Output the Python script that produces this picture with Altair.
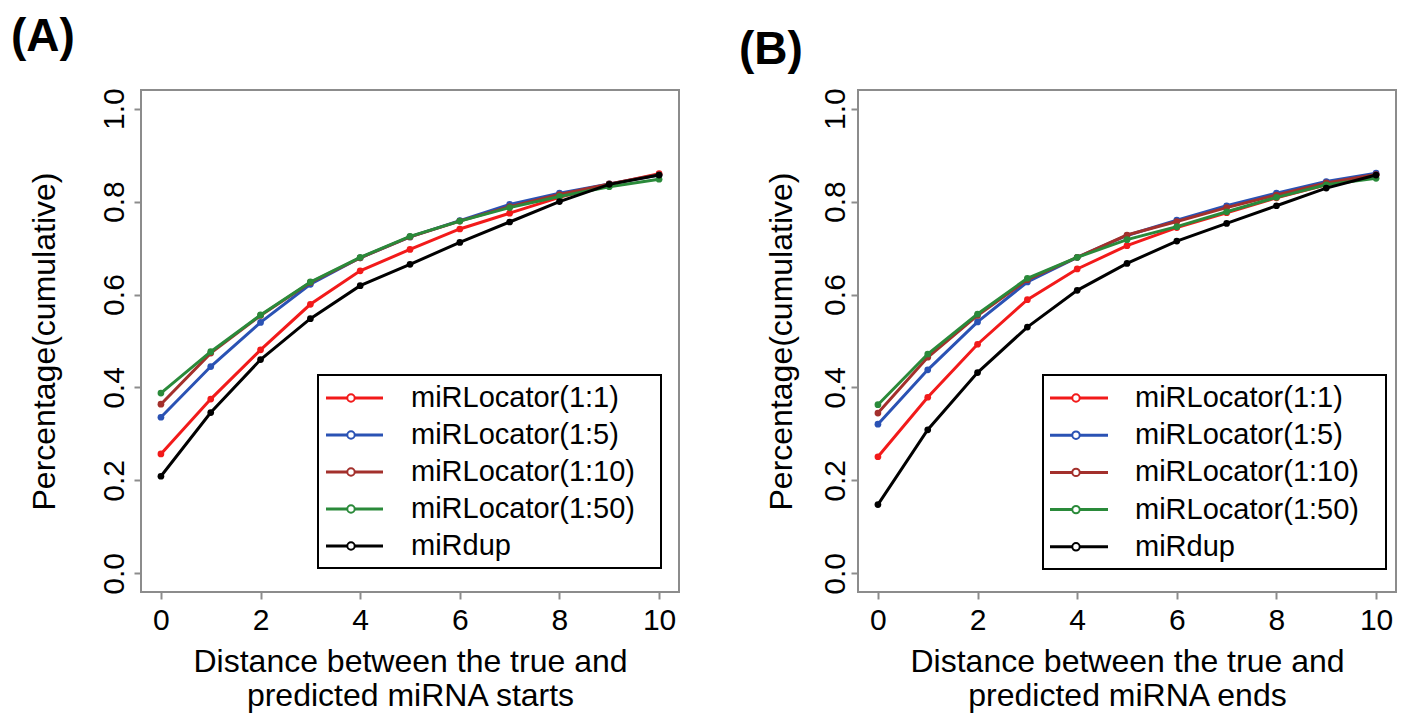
import altair as alt
import pandas as pd

FONT = "Liberation Sans"

distance = list(range(11))
series_names = ["miRLocator(1:1)", "miRLocator(1:5)", "miRLocator(1:10)",
                "miRLocator(1:50)", "miRdup"]
series_colors = ["#f21a1a", "#2a52b4", "#a3302c", "#2a8a3a", "#000000"]

# Panel A: starts
starts_1_1 = [0.257, 0.375, 0.481, 0.579, 0.651, 0.697, 0.741, 0.775, 0.809, 0.837, 0.860]
starts_1_5 = [0.336, 0.445, 0.540, 0.622, 0.679, 0.724, 0.759, 0.794, 0.818, 0.838, 0.857]
starts_1_10 = [0.364, 0.474, 0.555, 0.626, 0.679, 0.724, 0.758, 0.789, 0.815, 0.838, 0.858]
starts_1_50 = [0.388, 0.477, 0.556, 0.627, 0.680, 0.725, 0.758, 0.787, 0.811, 0.832, 0.848]
starts_mirdup = [0.209, 0.346, 0.460, 0.548, 0.619, 0.665, 0.712, 0.756, 0.800, 0.837, 0.857]

# Panel B: ends
ends_1_1 = [0.251, 0.379, 0.493, 0.589, 0.655, 0.705, 0.744, 0.776, 0.808, 0.836, 0.858]
ends_1_5 = [0.321, 0.438, 0.541, 0.627, 0.680, 0.727, 0.760, 0.791, 0.818, 0.843, 0.861]
ends_1_10 = [0.345, 0.465, 0.555, 0.632, 0.680, 0.728, 0.757, 0.787, 0.814, 0.840, 0.858]
ends_1_50 = [0.363, 0.472, 0.558, 0.635, 0.680, 0.718, 0.746, 0.778, 0.809, 0.836, 0.850]
ends_mirdup = [0.148, 0.309, 0.432, 0.530, 0.609, 0.667, 0.715, 0.753, 0.791, 0.829, 0.857]

x_ticks = [0, 2, 4, 6, 8, 10]
y_ticks = [0.0, 0.2, 0.4, 0.6, 0.8, 1.0]
y_title = "Percentage(cumulative)"
x_title_a = ["Distance between the true and", "predicted miRNA starts"]
x_title_b = ["Distance between the true and", "predicted miRNA ends"]

W, H = 538, 502
color_scale = alt.Scale(domain=series_names, range=series_colors)


def long_df(series_lists):
    rows = []
    for name, vals in zip(series_names, series_lists):
        for d, v in zip(distance, vals):
            rows.append({"distance": d, "value": v, "series": name})
    return pd.DataFrame(rows)


def panel(label, series_lists, xtitle, lab_pos, leg, ylab_pad, ytitle_pad):
    df = long_df(series_lists)
    x_enc = alt.X("distance:Q",
                  scale=alt.Scale(domain=[-0.4, 10.4], nice=False, zero=False),
                  axis=alt.Axis(values=x_ticks, title=xtitle, labelFlush=False,
                                labelOverlap=False, labelPadding=6, titlePadding=11,
                                titleLineHeight=34))
    y_enc = alt.Y("value:Q",
                  scale=alt.Scale(domain=[-0.04, 1.04], nice=False, zero=False),
                  axis=alt.Axis(values=y_ticks, format=".1f", title=y_title,
                                labelAngle=-90, labelAlign="center",
                                labelBaseline="bottom", labelFlush=False,
                                labelOverlap=False, labelPadding=ylab_pad,
                                titlePadding=ytitle_pad))
    c_enc = alt.Color("series:N", scale=color_scale, legend=None)

    layers = []
    for name in series_names:
        base = alt.Chart(df).transform_filter(alt.datum.series == name)
        layers.append(base.mark_line(strokeWidth=3).encode(x=x_enc, y=y_enc, color=c_enc))
        layers.append(base.mark_point(filled=True, size=45, opacity=1).encode(
            x=x_enc, y=y_enc, color=c_enc))

    # legend (drawn inside the plot like the R legend)
    box = alt.Chart(pd.DataFrame({"k": [0]})).mark_rect(
        fill="white", stroke="black", strokeWidth=2).encode(
        x=alt.value(leg["x0"]), x2=alt.value(leg["x1"]),
        y=alt.value(leg["y0"]), y2=alt.value(leg["y1"]))
    leg_df = pd.DataFrame({"series": series_names, "idx": list(range(len(series_names)))})
    lbase = alt.Chart(leg_df).transform_calculate(
        ly=f"{leg['row0']} + {leg['step']} * datum.idx")
    ly = alt.Y("ly:Q", scale=None)
    lrule = lbase.mark_rule(strokeWidth=3).encode(
        x=alt.value(leg["s0"]), x2=alt.value(leg["s1"]), y=ly, color=c_enc)
    lpt = lbase.mark_point(filled=False, fill="white", fillOpacity=1, size=55,
                           strokeWidth=2, opacity=1).encode(
        x=alt.value(leg["sc"]), y=ly, color=c_enc)
    ltxt = lbase.mark_text(align="left", baseline="middle", fontSize=29,
                           font=FONT, color="black").encode(
        x=alt.value(leg["tx"]), y=ly, text="series:N")

    lab = alt.Chart(pd.DataFrame({"label": [label]})).mark_text(
        align="left", baseline="top", fontSize=46, fontWeight="bold",
        font=FONT, color="black").encode(
        x=alt.value(lab_pos[0]), y=alt.value(lab_pos[1]), text="label:N")

    return alt.layer(*layers, box, lrule, lpt, ltxt, lab).properties(width=W, height=H)


leg_a = dict(x0=177, x1=520, y0=285, y1=478, s0=185, s1=242, sc=210, tx=270,
             row0=308, step=37)
leg_b = dict(x0=185, x1=528, y0=285, y1=479, s0=192, s1=250, sc=218, tx=277,
             row0=308, step=37.2)

pa = panel("(A)", [starts_1_1, starts_1_5, starts_1_10, starts_1_50, starts_mirdup],
           x_title_a, (-130, -75), leg_a, 5, 38)
pb = panel("(B)", [ends_1_1, ends_1_5, ends_1_10, ends_1_50, ends_mirdup],
           x_title_b, (-119, -62), leg_b, 1, 22)

chart = alt.hconcat(pa, pb, spacing=179, bounds="flush").configure(
    padding={"left": 2, "top": 5, "right": 5, "bottom": 3},
    background="white",
).configure_view(
    stroke="#8c8c8c", strokeWidth=2
).configure_axis(
    domain=False, grid=False, tickColor="#8c8c8c", tickWidth=2, tickSize=7,
    labelFont=FONT, labelFontSize=30, labelColor="black",
    titleFont=FONT, titleFontSize=32, titleFontWeight="normal", titleColor="black",
)

chart.save("out.html", embed_options={"renderer": "svg", "actions": False})
